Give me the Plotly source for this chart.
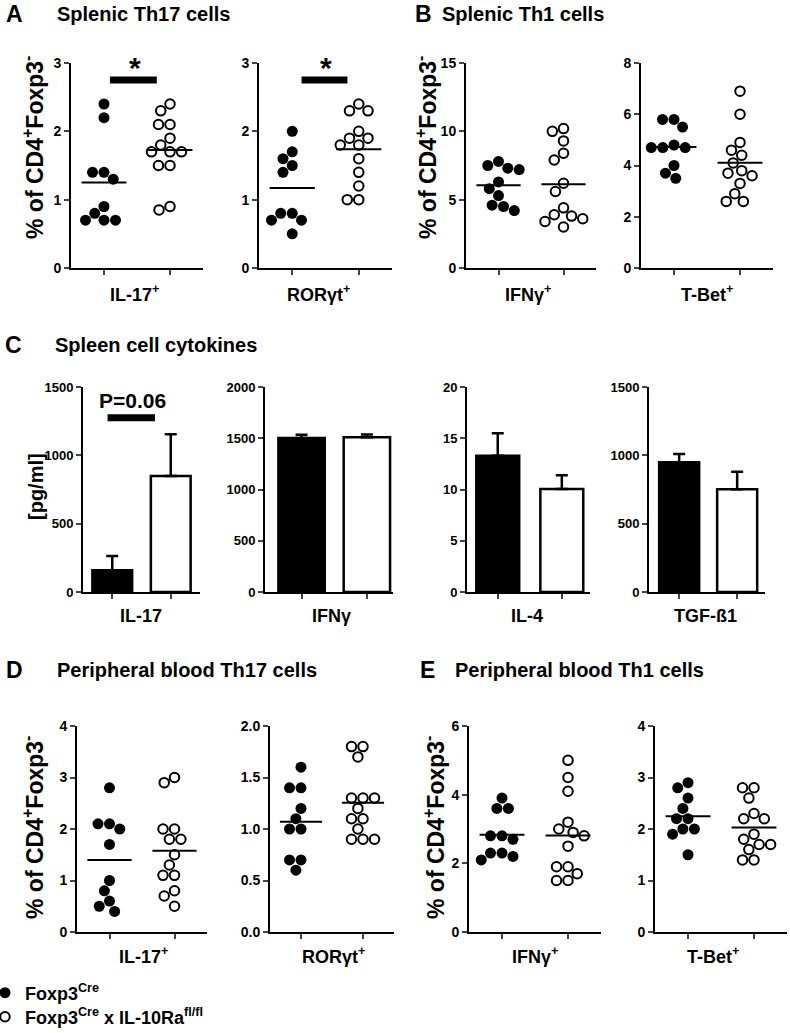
import numpy as np
import plotly.graph_objects as go

W, H = 790, 1033

# ---------------- data ----------------
# A - splenic Th17 (% of CD4+Foxp3-)
spl_il17_cre = [2.4, 2.2, 1.4, 1.4, 1.3, 0.9, 0.8, 0.7, 0.7, 0.7]
spl_il17_ko = [2.4, 2.3, 2.1, 2.1, 1.9, 1.8, 1.7, 1.7, 1.7, 1.5, 1.5, 0.9, 0.85]
spl_rorgt_cre = [2.0, 1.7, 1.6, 1.5, 1.4, 0.8, 0.8, 0.7, 0.7, 0.5]
spl_rorgt_ko = [2.4, 2.3, 2.3, 2.0, 1.9, 1.9, 1.8, 1.8, 1.6, 1.4, 1.2, 1.0, 1.0]
# B - splenic Th1
spl_ifng_cre = [7.8, 7.5, 7.3, 7.2, 6.3, 5.8, 5.3, 4.6, 4.5, 4.2]
spl_ifng_ko = [10.2, 10.0, 9.3, 8.4, 7.9, 6.2, 5.6, 4.4, 3.9, 3.8, 3.6, 3.4, 3.0]
spl_tbet_cre = [5.8, 5.8, 5.5, 4.8, 4.7, 4.7, 4.7, 4.0, 3.7, 3.5]
spl_tbet_ko = [6.9, 6.0, 4.9, 4.6, 4.4, 4.1, 3.8, 3.7, 3.6, 3.3, 2.9, 2.6, 2.6]
# C - spleen cell cytokines [pg/ml], mean and upper error
cyto_names = ["IL-17", "IFNγ", "IL-4", "TGF-ß1"]
cyto_mean_cre = [160, 1502, 13.3, 949]
cyto_err_cre = [103, 32, 2.2, 61]
cyto_mean_ko = [849, 1510, 10.05, 751]
cyto_err_ko = [305, 26, 1.35, 129]
# D - peripheral blood Th17
pb_il17_cre = [2.8, 2.1, 2.1, 2.0, 1.7, 1.0, 0.8, 0.6, 0.5, 0.4]
pb_il17_ko = [3.0, 2.9, 2.0, 2.0, 1.8, 1.8, 1.5, 1.3, 1.1, 1.1, 0.8, 0.7, 0.5]
pb_rorgt_cre = [1.6, 1.4, 1.4, 1.2, 1.1, 1.0, 1.0, 0.7, 0.7, 0.6]
pb_rorgt_ko = [1.8, 1.8, 1.7, 1.3, 1.3, 1.3, 1.2, 1.1, 1.1, 1.0, 0.9, 0.9, 0.9]
# E - peripheral blood Th1
pb_ifng_cre = [3.9, 3.6, 3.6, 2.8, 2.8, 2.7, 2.3, 2.3, 2.2, 2.1]
pb_ifng_ko = [5.0, 4.5, 4.1, 3.2, 3.0, 2.9, 2.8, 2.5, 1.9, 1.9, 1.7, 1.5, 1.5]
pb_tbet_cre = [2.9, 2.8, 2.6, 2.4, 2.2, 2.2, 2.0, 2.0, 1.9, 1.5]
pb_tbet_ko = [2.8, 2.8, 2.6, 2.3, 2.2, 2.2, 1.9, 1.8, 1.7, 1.7, 1.6, 1.4, 1.4]

FONT = "Arial, Liberation Sans, sans-serif"
YTITLE = "<b>% of CD4<sup>+</sup>Foxp3<sup>-</sup></b>"


def px(x):
    return x / W


def py(y):
    return 1 - y / H


def swarm(values, y_px, d):
    """Simple beeswarm: horizontal offsets (in px) so circles don't overlap."""
    vals = np.asarray(values, dtype=float)
    placed = []
    offs = np.zeros(len(vals))
    for i in np.argsort(-vals, kind="stable"):
        y = vals[i] * y_px
        cands = [0.0]
        for xj, yj in placed:
            dy = abs(y - yj)
            if dy < d:
                dx = np.sqrt(d * d - dy * dy)
                cands += [xj - dx, xj + dx]
        cands.sort(key=lambda c: (round(abs(c), 6), c))
        for c in cands:
            if all((c - xj) ** 2 + (y - yj) ** 2 >= d * d - 1e-6 for xj, yj in placed):
                break
        offs[i] = c
        placed.append((c, y))
    return offs


fig = go.Figure()
layout = {}


def make_axes(n, left, right, top, bottom, xrange, ymax, dtick, tickformat=None, ticksize=14):
    layout[f"xaxis{n}"] = dict(
        domain=[px(left), px(right)], range=xrange, anchor=f"y{n}",
        tickvals=[0, 1], showticklabels=False, ticks="outside", ticklen=5, tickwidth=2,
        showline=True, linewidth=2, linecolor="black", showgrid=False, zeroline=False,
        fixedrange=True,
    )
    layout[f"yaxis{n}"] = dict(
        domain=[py(bottom), py(top)], range=[0, ymax], anchor=f"x{n}",
        dtick=dtick, tick0=0, tickformat=tickformat, ticks="outside", ticklen=5, tickwidth=2,
        showline=True, linewidth=2, linecolor="black", showgrid=False, zeroline=False,
        tickfont=dict(family=FONT, size=ticksize, color="black", weight="bold"),
        fixedrange=True,
    )


def scatter_panel(n, cre, ko, left, right, top, bottom, ymax, dtick, tickformat=None, legend=False):
    make_axes(n, left, right, top, bottom, [-0.5, 1.5], ymax, dtick, tickformat)
    cat_px = (right - left) / 2.0
    y_px = (bottom - top) / ymax
    d = 11.5
    for i, (vals, fill, line_w, size, name, leg) in enumerate([
        (cre, "black", 0, 11, "<b>Foxp3<sup>Cre</sup></b>", "legend"),
        (ko, "white", 2, 9.5, "<b>Foxp3<sup>Cre</sup> x IL-10Ra<sup>fl/fl</sup></b>", "legend2"),
    ]):
        xs = i + swarm(vals, y_px, d) / cat_px
        fig.add_trace(go.Scatter(
            x=xs, y=vals, mode="markers", xaxis=f"x{n}", yaxis=f"y{n}",
            marker=dict(color=fill, size=size, line=dict(color="black", width=line_w)),
            name=name, showlegend=legend, legend=leg, cliponaxis=False, hoverinfo="y",
        ))
        m = float(np.mean(vals))
        fig.add_trace(go.Scatter(
            x=[i - 0.34, i + 0.34], y=[m, m], mode="lines", xaxis=f"x{n}", yaxis=f"y{n}",
            line=dict(color="black", width=2), showlegend=False, hoverinfo="skip",
        ))


def bar_panel(n, k, left, right, xrange, ymax, dtick, width):
    make_axes(n, left, right, 387, 592, xrange, ymax, dtick, ticksize=13)
    fig.add_trace(go.Bar(
        x=[0, 1], y=[cyto_mean_cre[k], cyto_mean_ko[k]], width=width,
        xaxis=f"x{n}", yaxis=f"y{n}", showlegend=False,
        marker=dict(color=["black", "white"], line=dict(color="black", width=2.5)),
        error_y=dict(type="data", symmetric=False, array=[cyto_err_cre[k], cyto_err_ko[k]],
                     arrayminus=[0, 0], color="black", thickness=2.5, width=6),
    ))


# row 1: A / B
scatter_panel(1, spl_il17_cre, spl_il17_ko, 71, 203, 63, 268, 3, 1, legend=True)
scatter_panel(2, spl_rorgt_cre, spl_rorgt_ko, 259, 392, 63, 268, 3, 1)
scatter_panel(3, spl_ifng_cre, spl_ifng_ko, 466, 596, 63, 268, 15, 5)
scatter_panel(4, spl_tbet_cre, spl_tbet_ko, 641, 773, 63, 268, 8, 2)
# row 2: C
bar_panel(5, 0, 83, 200, [-0.5, 1.5], 1500, 500, 0.68)
bar_panel(6, 1, 265, 393, [-0.56, 1.4], 2000, 500, 0.71)
bar_panel(7, 2, 467, 590, [-0.48, 1.44], 20, 5, 0.67)
bar_panel(8, 3, 649, 765, [-0.52, 1.48], 1500, 500, 0.69)
# row 3: D / E
scatter_panel(9, pb_il17_cre, pb_il17_ko, 77, 207, 726, 932, 4, 1)
scatter_panel(10, pb_rorgt_cre, pb_rorgt_ko, 270, 394, 726, 932, 2, 0.5, tickformat=".1f")
scatter_panel(11, pb_ifng_cre, pb_ifng_ko, 469, 601, 726, 932, 6, 2)
scatter_panel(12, pb_tbet_cre, pb_tbet_ko, 655, 787, 726, 932, 4, 1)

annotations = []


def text(x, y, s, size, angle=0, xanchor="center", yanchor="middle", ref=None):
    d = dict(text=s, showarrow=False, textangle=angle, xanchor=xanchor, yanchor=yanchor,
             font=dict(family=FONT, size=size, color="black"))
    if ref is None:
        d.update(xref="paper", yref="paper", x=px(x), y=py(y))
    else:
        d.update(xref=f"x{ref}", yref=f"y{ref}", x=x, y=y)
    annotations.append(d)


# panel letters and titles
for letter, lx, tx, ty, title in [
    ("A", 14, 55, 14, "Splenic Th17 cells"),
    ("B", 423, 440, 14, "Splenic Th1 cells"),
    ("C", 13, 53, 345, "Spleen cell cytokines"),
    ("D", 14, 55, 670, "Peripheral blood Th17 cells"),
    ("E", 427, 453, 670, "Peripheral blood Th1 cells"),
]:
    text(lx, ty, f"<b>{letter}</b>", 23)
    text(tx, ty, f"<b>{title}</b>", 20, xanchor="left")

# category labels under the axes
for s, x, y in [
    ("IL-17<sup>+</sup>", 134, 293), ("RORγt<sup>+</sup>", 318, 293),
    ("IFNγ<sup>+</sup>", 528, 293), ("T-Bet<sup>+</sup>", 707, 293),
    ("IL-17", 141, 616), ("IFNγ", 331, 616), ("IL-4", 527, 616), ("TGF-ß1", 705, 616),
    ("IL-17<sup>+</sup>", 143, 955), ("RORγt<sup>+</sup>", 333, 955),
    ("IFNγ<sup>+</sup>", 535, 955), ("T-Bet<sup>+</sup>", 713, 955),
]:
    text(x, y, f"<b>{s}</b>", 18)

# y-axis titles
text(33, 148, YTITLE, 23, angle=-90)
text(426, 148, YTITLE, 23, angle=-90)
text(36, 487, "<b>[pg/ml]</b>", 20, angle=-90)
text(33, 828, YTITLE, 23, angle=-90)
text(434, 828, YTITLE, 23, angle=-90)

# significance marks
shapes = []
for ref, x0, x1, y in [(1, 0.09, 0.80, 2.75), (2, 0.14, 0.83, 2.75), (5, -0.08, 0.73, 1275)]:
    shapes.append(dict(type="line", xref=f"x{ref}", yref=f"y{ref}", x0=x0, x1=x1, y0=y, y1=y,
                       line=dict(color="black", width=7)))
text(0.47, 2.93, "<b>*</b>", 30, ref=1)
text(0.5, 2.93, "<b>*</b>", 30, ref=2)
text(0.34, 1400, "<b>P=0.06</b>", 21, ref=5)

leg_style = dict(x=-0.019, xanchor="left", yanchor="middle",
                 font=dict(family=FONT, size=18, color="black"),
                 bgcolor="rgba(0,0,0,0)", itemwidth=30)

layout.update(
    width=W, height=H,
    margin=dict(l=0, r=0, t=0, b=0, autoexpand=False),
    paper_bgcolor="white", plot_bgcolor="white",
    font=dict(family=FONT, color="black"),
    annotations=annotations, shapes=shapes,
    legend=dict(y=py(993), **leg_style),
    legend2=dict(y=py(1017), **leg_style),
    hovermode="closest",
)
fig.update_layout(**layout)
fig.write_html("out.html", config={"displayModeBar": False},
               post_script="document.body.style.margin='0';")
